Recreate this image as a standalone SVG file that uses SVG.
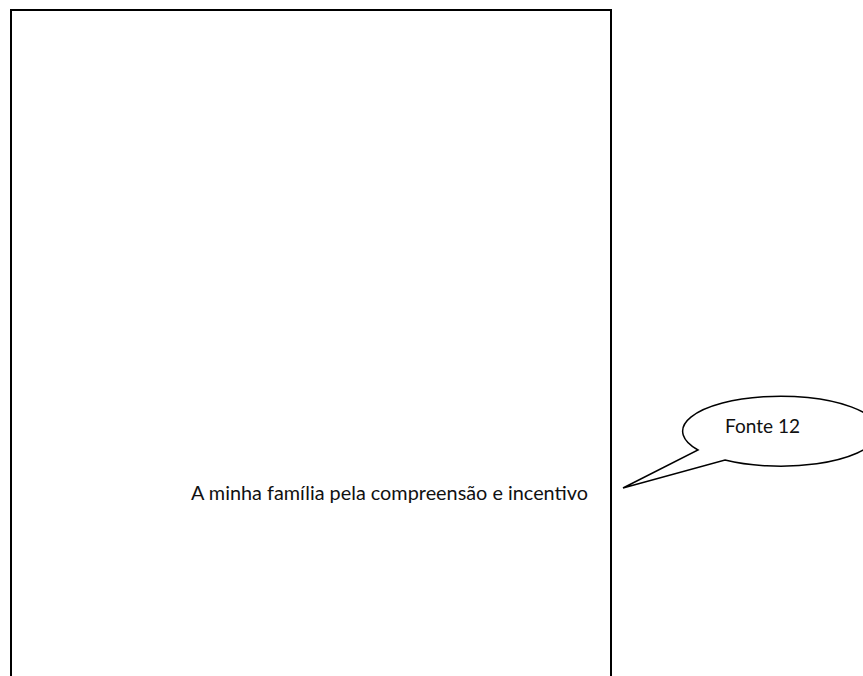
<svg xmlns="http://www.w3.org/2000/svg" width="863" height="676" viewBox="0 0 863 676">
  <style>
    .txt { font-family: "Lato", "Open Sans", "Liberation Sans", sans-serif; font-size: 18.5px; fill: #111; }
    .frame { fill: none; stroke: #000; stroke-width: 2; }
    .callout { fill: #fff; stroke: #000; stroke-width: 1.5; stroke-linejoin: miter; }
  </style>
  <rect width="863" height="676" fill="#fff"/>
  <g id="page">
    <rect class="frame" x="11" y="10" width="600" height="700"/>
  </g>
  <g id="dedication">
    <text class="txt" x="191" y="500" textLength="397" lengthAdjust="spacingAndGlyphs">A minha família pela compreensão e incentivo</text>
  </g>
  <g id="callout">
    <path class="callout" d="M698,450 A98,35 0 1,1 725,460 L623,488 Z"/>
    <text class="txt" x="725" y="433" textLength="75" lengthAdjust="spacingAndGlyphs">Fonte 12</text>
  </g>
  <g id="connectors"></g>
</svg>
